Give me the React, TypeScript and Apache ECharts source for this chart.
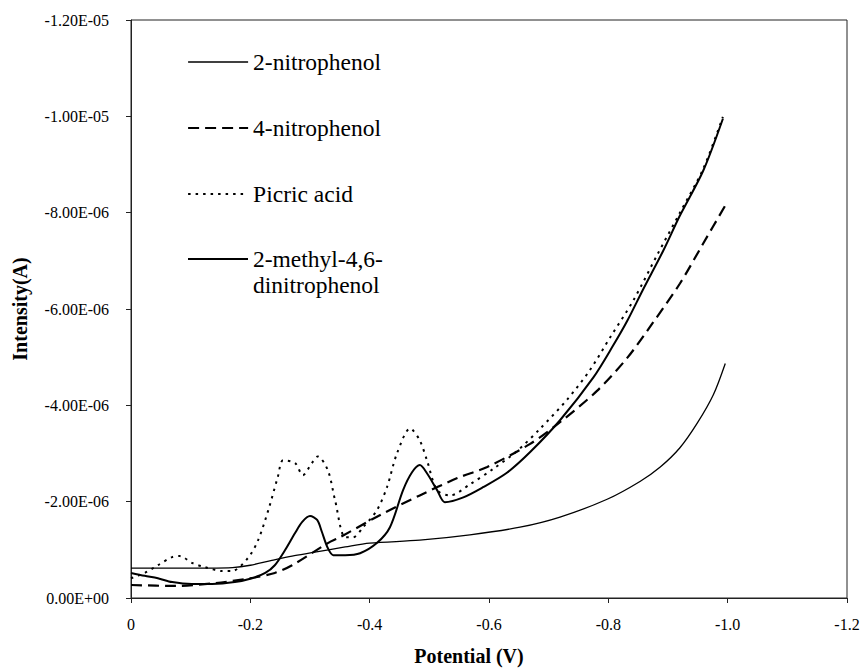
import React, { useEffect, useRef } from 'react';
import * as echarts from 'echarts';

// Potential (V), current in µA (axis labels convert to A)
const NAMES = ['2-nitrophenol', '4-nitrophenol', 'Picric acid', '2-methyl-4,6-dinitrophenol'];

const nitrophenol2: [number, number][] = [
  [0, -0.62], [-0.13, -0.62], [-0.17, -0.63], [-0.2, -0.68], [-0.236, -0.78], [-0.27, -0.87],
  [-0.303, -0.94], [-0.359, -1.06], [-0.4, -1.14], [-0.484, -1.2], [-0.568, -1.31],
  [-0.652, -1.47], [-0.719, -1.68], [-0.798, -2.05], [-0.853, -2.42], [-0.887, -2.72],
  [-0.92, -3.12], [-0.949, -3.63], [-0.976, -4.22], [-0.996, -4.87],
];

const nitrophenol4: [number, number][] = [
  [0, -0.27], [-0.074, -0.25], [-0.141, -0.31], [-0.2, -0.41], [-0.241, -0.52], [-0.27, -0.68],
  [-0.33, -1.14], [-0.35, -1.26], [-0.417, -1.72], [-0.484, -2.13], [-0.547, -2.49],
  [-0.597, -2.72], [-0.669, -3.2], [-0.719, -3.65], [-0.781, -4.3], [-0.832, -4.99],
  [-0.875, -5.72], [-0.92, -6.53], [-0.959, -7.36], [-0.996, -8.15],
];

const picric: [number, number][] = [
  [0, -0.41], [-0.023, -0.52], [-0.045, -0.68], [-0.069, -0.85], [-0.082, -0.87], [-0.102, -0.73],
  [-0.124, -0.64], [-0.153, -0.56], [-0.169, -0.56], [-0.196, -0.83], [-0.213, -1.2],
  [-0.23, -1.82], [-0.246, -2.51], [-0.255, -2.86], [-0.275, -2.8], [-0.288, -2.55],
  [-0.303, -2.8], [-0.313, -2.94], [-0.33, -2.65], [-0.342, -2.03], [-0.359, -1.26],
  [-0.372, -1.26], [-0.389, -1.47], [-0.412, -1.82], [-0.429, -2.3], [-0.446, -3.01],
  [-0.468, -3.52], [-0.484, -3.27], [-0.496, -2.86], [-0.513, -2.24], [-0.535, -2.13],
  [-0.568, -2.36], [-0.607, -2.68], [-0.647, -3.05], [-0.686, -3.52], [-0.731, -4.12],
  [-0.769, -4.73], [-0.803, -5.41], [-0.842, -6.18], [-0.883, -7.15], [-0.92, -8.0],
  [-0.959, -8.91], [-0.992, -9.99],
];

const methylDinitro: [number, number][] = [
  [0, -0.52], [-0.023, -0.46], [-0.045, -0.41], [-0.069, -0.33], [-0.102, -0.29], [-0.136, -0.29],
  [-0.174, -0.33], [-0.203, -0.41], [-0.225, -0.52], [-0.241, -0.68], [-0.258, -0.99],
  [-0.275, -1.35], [-0.287, -1.58], [-0.3, -1.7], [-0.312, -1.62], [-0.32, -1.37],
  [-0.329, -1.06], [-0.339, -0.89], [-0.359, -0.89], [-0.384, -0.93], [-0.412, -1.14],
  [-0.434, -1.47], [-0.456, -2.24], [-0.471, -2.61], [-0.484, -2.76], [-0.496, -2.59],
  [-0.513, -2.24], [-0.526, -1.99], [-0.557, -2.09], [-0.59, -2.3], [-0.63, -2.6],
  [-0.669, -3.03], [-0.719, -3.69], [-0.775, -4.58], [-0.808, -5.24], [-0.832, -5.76],
  [-0.858, -6.4], [-0.892, -7.21], [-0.92, -7.94], [-0.959, -8.87], [-0.992, -9.95],
];

const X_MIN = -1.2;
const X_MAX = 0;
const X_STEP = 0.2;
const Y_MIN = -12; // µA
const Y_MAX = 0;
const Y_STEP = 2;
const MICRO = 1e-6;

const FONT = 'Liberation Serif';

function formatSci(v: number): string {
  const a = v * MICRO;
  if (Math.abs(a) < 1e-15) return '0.00E+00';
  const [m, e] = a.toExponential(2).split('e');
  const sign = e.startsWith('-') ? '-' : '+';
  return `${m}E${sign}${e.replace(/^[+-]/, '').padStart(2, '0')}`;
}

function formatX(v: number): string {
  if (Math.abs(v) < 1e-9) return '0';
  return v.toFixed(1);
}

export default function App() {
  const ref = useRef<HTMLDivElement>(null);
  useEffect(() => {
    if (!ref.current) return;
    const chart = echarts.init(ref.current, null, { renderer: 'svg' });
    const legendText = {
      fontFamily: FONT,
      fontSize: 23.5,
      lineHeight: 26,
      color: '#000',
    };
    const lineCommon = {
      type: 'line',
      symbol: 'none',
      smooth: 0.3,
      itemStyle: { color: '#000' },
    };
    chart.setOption({
      animation: false,
      backgroundColor: '#fff',
      grid: {
        left: 131,
        right: 14,
        top: 20,
        bottom: 70,
        show: true,
        borderColor: '#222',
        borderWidth: 1,
        containLabel: false,
        outerBoundsMode: 'none',
      },
      legend: [
        {
          data: NAMES.slice(0, 3),
          orient: 'vertical',
          left: 187,
          top: 49,
          padding: 0,
          itemGap: 40,
          itemWidth: 60,
          itemHeight: 14,
          selectedMode: false,
          textStyle: legendText,
          itemStyle: { opacity: 0 },
          lineStyle: { width: 'inherit', type: 'inherit' },
        },
        {
          data: NAMES.slice(3),
          orient: 'vertical',
          left: 187,
          top: 220,
          padding: 0,
          itemWidth: 60,
          itemHeight: 14,
          selectedMode: false,
          textStyle: legendText,
          itemStyle: { opacity: 0 },
          lineStyle: { width: 'inherit', type: 'inherit' },
          formatter: () => '\n2-methyl-4,6-\ndinitrophenol',
        },
      ],
      xAxis: {
        type: 'value',
        min: X_MIN,
        max: X_MAX,
        interval: X_STEP,
        inverse: true,
        name: 'Potential (V)',
        nameLocation: 'middle',
        nameGap: 48,
        nameTextStyle: {
          fontFamily: FONT,
          fontSize: 20,
          fontWeight: 'bold',
          color: '#000',
          padding: [0, 40, 0, 0],
        },
        axisLine: { show: true, onZero: false, lineStyle: { color: '#222', width: 1 } },
        axisTick: { show: true, inside: false, length: 5, lineStyle: { color: '#222' } },
        axisLabel: { fontFamily: FONT, fontSize: 16, color: '#000', margin: 18, formatter: formatX },
        splitLine: { show: false },
      },
      yAxis: {
        type: 'value',
        min: Y_MIN,
        max: Y_MAX,
        interval: Y_STEP,
        inverse: true,
        name: 'Intensity(A)',
        nameLocation: 'middle',
        nameGap: 101,
        nameTextStyle: {
          fontFamily: FONT,
          fontSize: 20,
          fontWeight: 'bold',
          color: '#000',
        },
        axisLine: { show: true, onZero: false, lineStyle: { color: '#222', width: 1 } },
        axisTick: { show: true, inside: false, length: 5, lineStyle: { color: '#222' } },
        axisLabel: { fontFamily: FONT, fontSize: 16, color: '#000', margin: 22, formatter: formatSci },
        splitLine: { show: false },
      },
      series: [
        {
          ...lineCommon,
          name: NAMES[0],
          data: nitrophenol2,
          lineStyle: { color: '#000', width: 1.3, type: 'solid' },
        },
        {
          ...lineCommon,
          name: NAMES[1],
          data: nitrophenol4,
          lineStyle: { color: '#000', width: 2.2, type: [11, 6] },
        },
        {
          ...lineCommon,
          name: NAMES[2],
          data: picric,
          lineStyle: { color: '#000', width: 2, type: [2.5, 5] },
        },
        {
          ...lineCommon,
          name: NAMES[3],
          data: methylDinitro,
          lineStyle: { color: '#000', width: 2, type: 'solid' },
        },
      ],
    });
    return () => chart.dispose();
  }, []);
  return (
    <div
      ref={ref}
      style={{ position: 'absolute', left: 0, top: 0, width: 861, height: 668, background: '#fff' }}
    />
  );
}
